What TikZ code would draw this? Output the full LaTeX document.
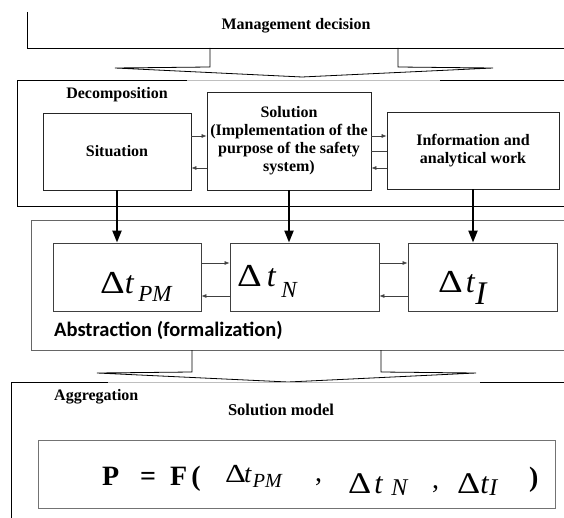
\documentclass[tikz,border=0pt]{standalone}
\usepackage{fontspec}
\setmainfont{Liberation Serif}
\newfontfamily\absfont{Carlito}
\usetikzlibrary{arrows.meta,positioning}

\newcommand{\lbl}{\bfseries\fontsize{16}{18}\selectfont}
\newcommand{\fs}[1]{\fontsize{#1}{#1}\selectfont}
\newcommand{\Dl}{\scalebox{1.2}[1]{Δ}}

\tikzset{
  blockbox/.style={draw=black!85, line width=0.8pt, inner sep=0pt, align=center, font=\lbl},
  deltabox/.style={draw=black!75, line width=0.9pt, inner sep=0pt, minimum width=148pt, minimum height=68pt},
  heavy/.style={line width=2.2pt, -{Triangle[length=12pt,width=9pt]}},
  light/.style={line width=0.6pt, draw=black!75, -{Latex[length=5pt,width=4pt]}},
  heading/.style={font=\lbl, inner sep=0pt},
  piece/.style={anchor=base west, inner sep=0pt},
  edge/.style={line width=0.8pt},
  faded/.style={line width=0.8pt, draw=black!25}
}

\begin{document}
\begin{tikzpicture}[x=1pt,y=-1pt]
\useasboundingbox (0,0) rectangle (564,518);

\draw[edge] (27,12) -- (27,48) -- (570,48);
\node[heading] (mgmt) at (296,26) {Management decision};
\draw[edge] (210,48) -- (210,67) -- (115,68) -- (302,77) -- (493,68) -- (398,67) -- (398,48);

\draw[edge] (187,80) -- (17,80) -- (17,206) -- (570,206);
\draw[faded] (187,80) -- (440,80);
\draw[edge] (440,80) -- (570,80);
\node[heading] (decomp) at (117,95) {Decomposition};

\node[blockbox, minimum width=148pt, minimum height=77pt] (sit) at (117,151.5) {Situation};
\node[blockbox, minimum width=164pt, minimum height=98pt] (sol) at (289,141) {Solution\\(Implementation of the\\purpose of the safety\\system)};
\node[blockbox, minimum width=172pt, minimum height=77pt] (info) at (473,150.5) {Information and\\analytical work};

\coordinate (hi) at (0,136);
\coordinate (lo) at (0,168);
\coordinate (mid) at (0,151);
\draw[light] (sit.east |- hi) -- (sol.west |- hi);
\draw[light] (sol.west |- lo) -- (sit.east |- lo);
\draw[light] (sol.east |- hi) -- (info.west |- hi);
\draw[light] (info.west |- lo) -- (sol.east |- lo);
\draw[line width=0.6pt, black!75] (sol.east |- mid) -- (info.west |- mid);

\draw[edge, draw=black!60] (570,220) -- (31,220) -- (31,350) -- (570,350);

\node[deltabox] (tpm) at (127,277) {};
\node[deltabox, minimum width=149pt] (tn) at (304.5,277) {};
\node[deltabox, minimum width=149pt] (ti) at (482.5,277) {};

\node[piece] (tpmtext) at (100,293) {\fs{32}\Dl\textit{t}\hspace{4pt}\raisebox{-9pt}{\fs{23}\textit{PM}}};
\node[piece] (tntext) at (237,287) {\fs{32}\Dl\hspace{5pt}\textit{t}\hspace{5pt}\raisebox{-11pt}{\fs{23}\textit{N}}};
\node[piece] (titext) at (438,292) {\fs{32}\Dl\hspace{3pt}\textit{t}\raisebox{-12pt}{\fs{33}\textit{I}}};

\draw[heavy] (sit.south) -- (sit.south |- tpm.north);
\draw[heavy] (sol.south) -- (sol.south |- tn.north);
\draw[heavy] (info.south) -- (info.south |- ti.north);

\coordinate (up) at (0,263);
\coordinate (dn) at (0,296);
\draw[light] (tpm.east |- up) -- (tn.west |- up);
\draw[light] (tn.west |- dn) -- (tpm.east |- dn);
\draw[light] (tn.east |- up) -- (ti.west |- up);
\draw[light] (ti.west |- dn) -- (tn.east |- dn);

\node[piece, font=\absfont\bfseries\fs{20.5}] (abs) at (54,336) {Abstraction (formalization)};

\draw[edge] (192,350) -- (192,372) -- (97,373) -- (288,382) -- (476,373) -- (381,372) -- (381,350);

\draw[edge] (11,525) -- (11,382) -- (108,382);
\draw[faded] (108,382) -- (480,382);
\draw[edge] (480,382) -- (570,382);
\node[heading, anchor=base west] (agg) at (54,400) {Aggregation};
\node[heading, anchor=base, font=\bfseries\fs{16.5}] (model) at (281,415) {Solution model};

\node[draw=black!55, line width=0.9pt, inner sep=0pt, minimum width=517pt, minimum height=68pt] (fbox) at (296.5,474) {};
\node[piece, font=\bfseries\fs{28}] (fp) at (102,485) {P};
\node[piece, font=\bfseries\fs{28}] (feq) at (140,485) {=};
\node[piece, font=\bfseries\fs{28}] (ff) at (170,485) {F\hspace{4pt}(};
\node[piece] (fpm) at (225,482) {\fs{26}\scalebox{1.25}[1]{Δ}\hspace{-2pt}\textit{t}\hspace{1pt}\raisebox{-5pt}{\fs{20}\textit{PM}}};
\node[piece, font=\fs{28}] (fca) at (315,481) {,};
\node[piece] (fn) at (348,493) {\fs{30}\Dl\hspace{3pt}\textit{t}\hspace{8pt}\raisebox{-2pt}{\fs{24}\textit{N}}};
\node[piece, font=\fs{28}] (fcb) at (432,488) {,};
\node[piece] (fi) at (457,493) {\fs{30}\Dl\textit{t}\raisebox{-2pt}{\fs{24}\textit{I}}};
\node[piece, font=\bfseries\fs{28}] (fr) at (529,486) {)};
\end{tikzpicture}
\end{document}
